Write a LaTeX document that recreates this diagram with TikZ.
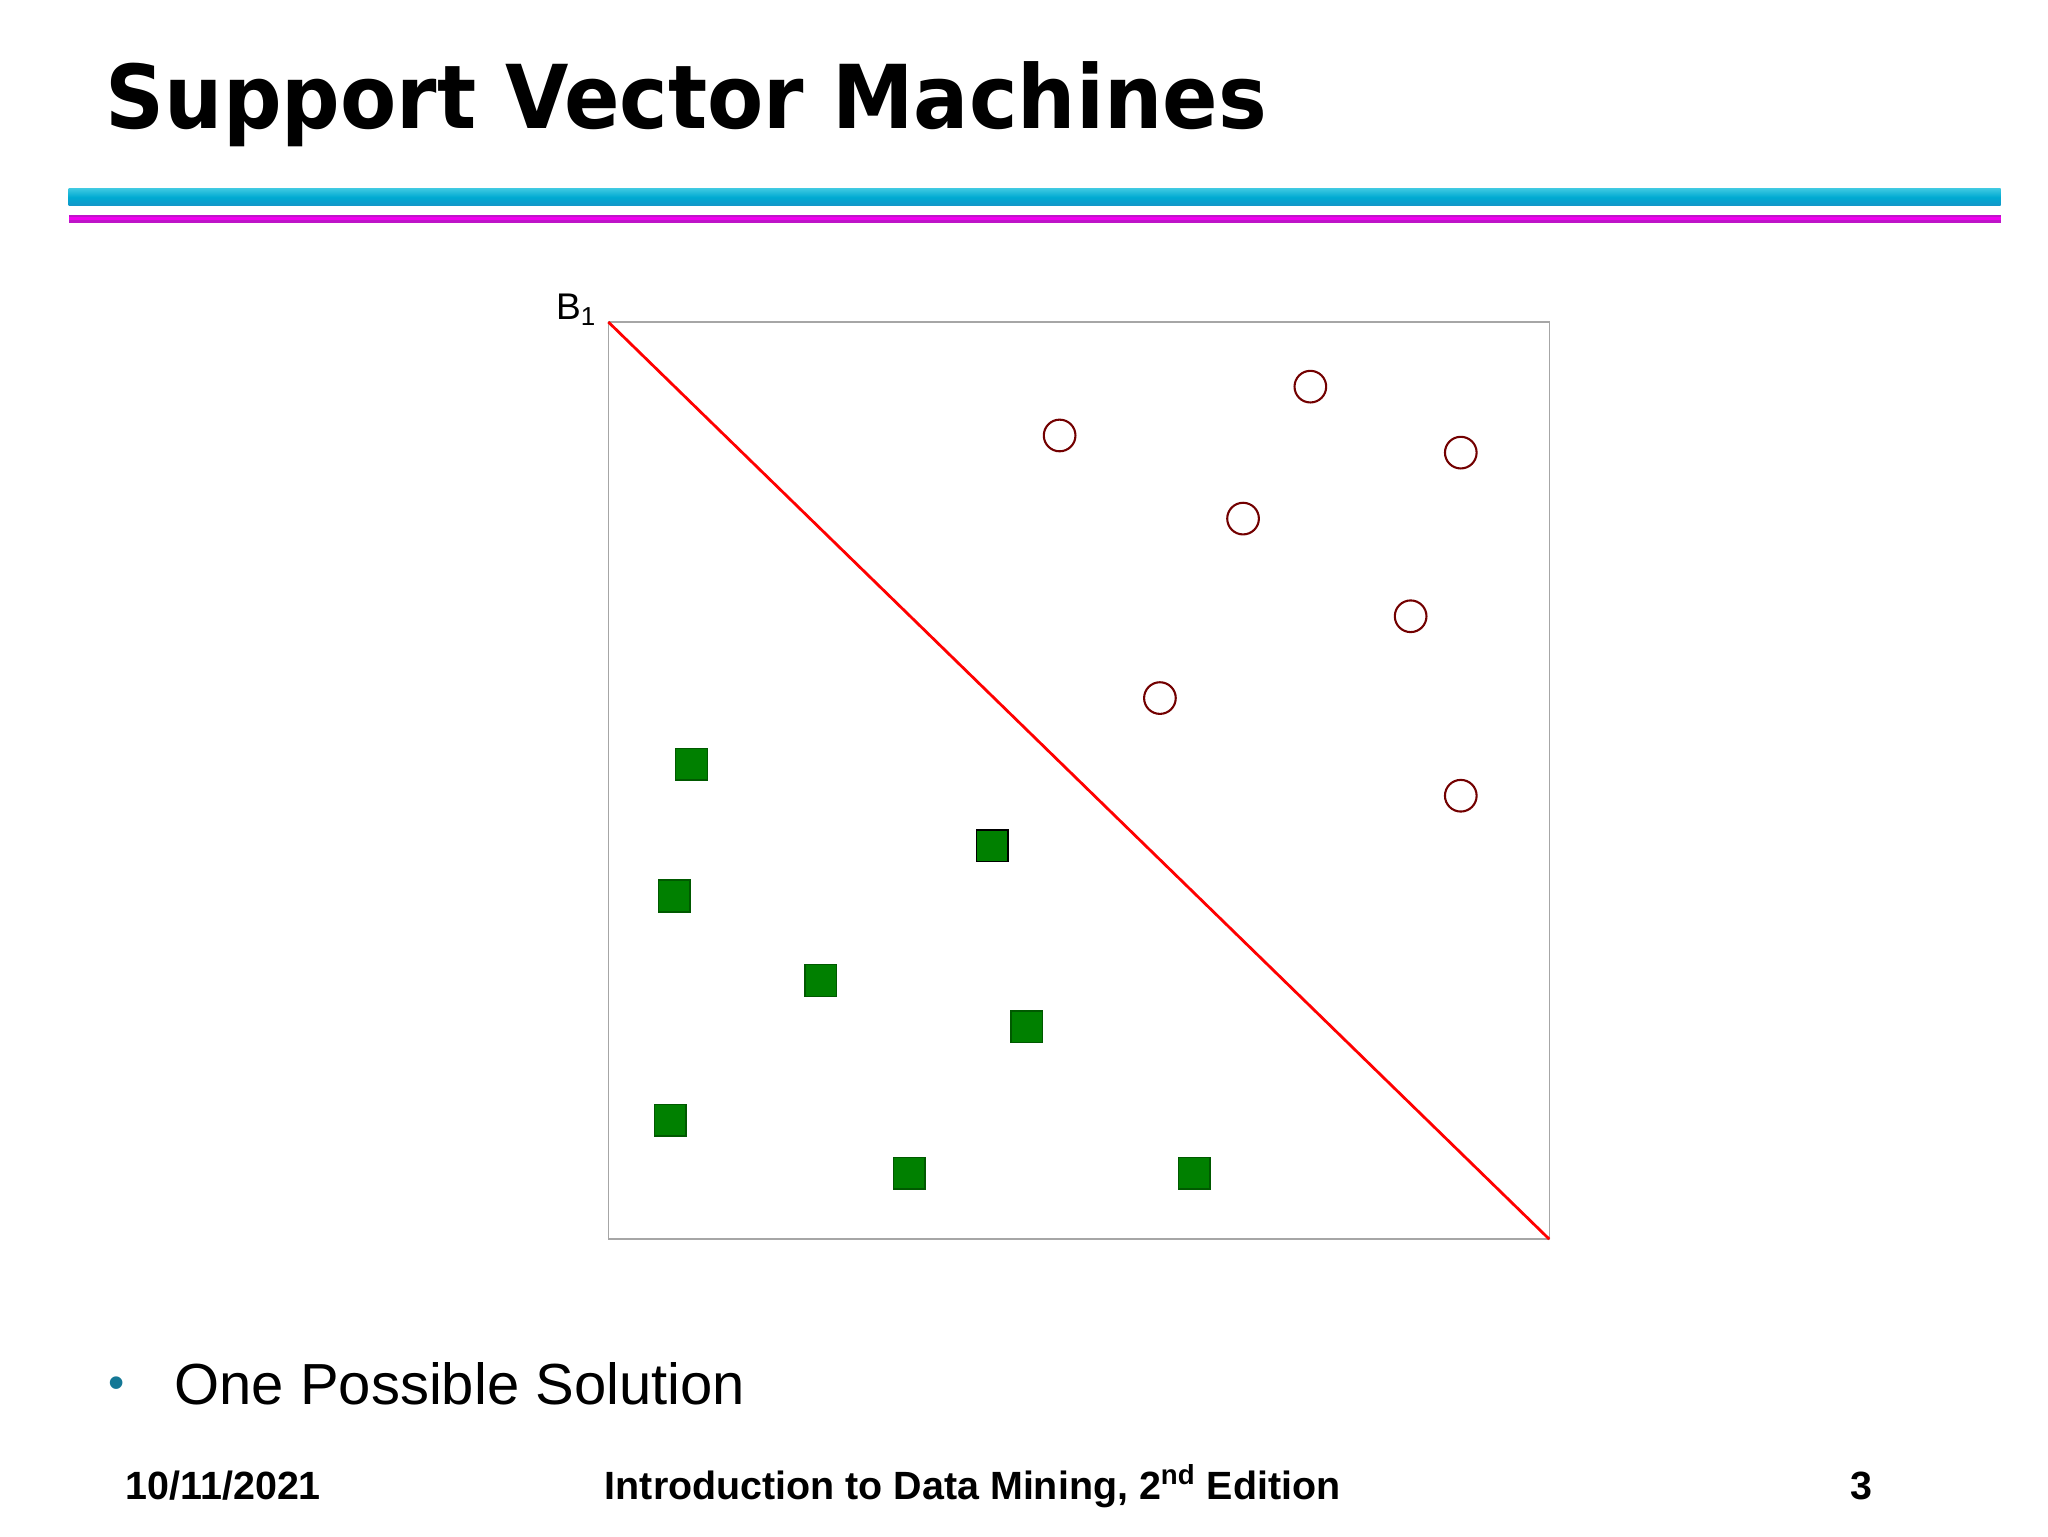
\documentclass[tikz,border=0pt]{standalone}
\usepackage{fontspec}
\setmainfont{Liberation Sans}
\newfontfamily\titlefont{DejaVu Sans}
\definecolor{bandtop}{RGB}{60,200,225}
\definecolor{bandmid}{RGB}{0,170,210}
\definecolor{bandbot}{RGB}{20,150,200}
\definecolor{magline}{RGB}{190,20,200}
\definecolor{magcore}{RGB}{240,0,240}
\definecolor{bulcol}{RGB}{20,120,150}
\begin{document}
\begin{tikzpicture}[x=0.02cm,y=-0.02cm,
  circ/.style={circle,draw=red!45!black,fill=white,line width=0.9pt,minimum size=0.48cm,inner sep=0pt},
  sq/.style={rectangle,draw=green!35!black,fill=green!50!black,line width=0.6pt,minimum size=0.48cm,inner sep=0pt},
  foot/.style={font=\fontsize{17}{20}\selectfont\bfseries,anchor=base west,inner sep=0pt}]
\useasboundingbox[fill=white] (0,0) rectangle (1552,1164);
\node[anchor=base west,inner sep=0pt,font=\titlefont\fontsize{38}{44}\selectfont\bfseries,xscale=0.93] (title) at (80,97) {Support Vector Machines};
\shade[top color=bandtop,bottom color=bandbot,middle color=bandmid] (52,143) rectangle (1516,156);
\fill[magline] (52,163) rectangle (1516,169);
\fill[magcore] (52,164.5) rectangle (1516,167);
\draw[gray!70,line width=0.6pt] (461,244) rectangle (1174,939);
\coordinate (p1) at (461,244); \coordinate (p2) at (1174,939);
\draw[red,line width=1.2pt] (p1) -- (p2);
\node[anchor=base west,inner sep=0pt,font=\fontsize{16}{18}\selectfont] (b1) at (421,242) {B\textsubscript{1}};
\foreach \n/\x/\y in {c1/803/330,c2/993/293,c3/1107/343,c4/942/393,c5/1069/467,c6/879/529,c7/1107/603}
  \node[circ] (\n) at (\x,\y) {};
\foreach \n/\x/\y in {s1/524/579,s3/511/679,s4/622/743,s5/778/778,s6/508/849,s7/689/889,s8/905/889}
  \node[sq] (\n) at (\x,\y) {};
\node[sq,draw=black] (s2) at (752,641) {};
\node[anchor=base,inner sep=0pt,text=bulcol,font=\fontsize{20}{24}\selectfont] (bul) at (88,1060) {\textbullet};
\node[anchor=base west,inner sep=0pt,font=\fontsize{25}{30}\selectfont] (sol) at (132,1064) {One Possible Solution};
\node[foot] (date) at (95,1136) {10/11/2021};
\node[foot] (book) at (458,1136) {Introduction to Data Mining, 2\textsuperscript{nd} Edition};
\node[foot] (pg) at (1402,1136) {3};
\end{tikzpicture}
\end{document}
